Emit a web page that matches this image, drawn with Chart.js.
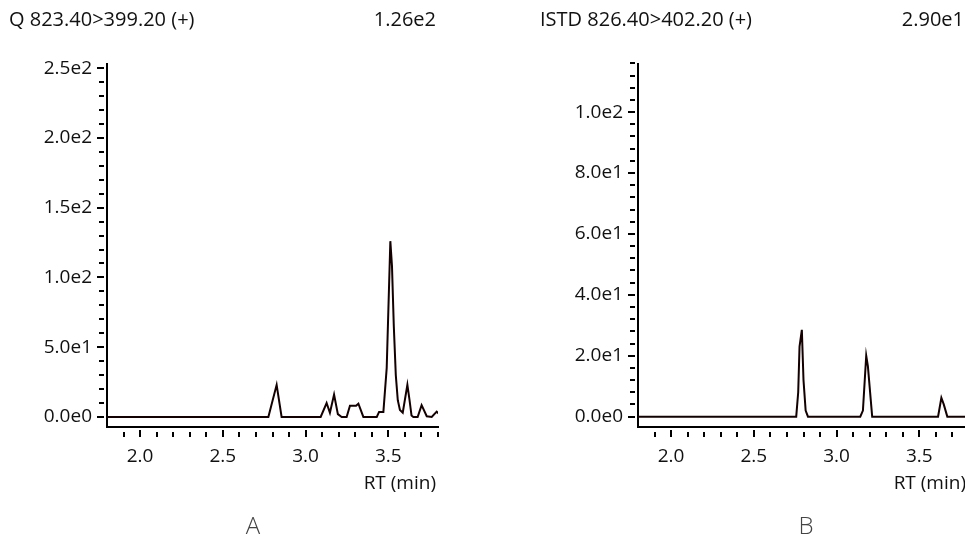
<!DOCTYPE html>
<html>
<head>
<meta charset="utf-8">
<script src="https://cdn.jsdelivr.net/npm/chart.js@4.4.0/dist/chart.umd.min.js"></script>
<style>
  body { margin: 0; background: #fff; overflow: hidden; width: 965px; height: 537px; position: relative; }
  .wrap { position: absolute; top: 0; height: 537px; }
</style>
</head>
<body>
<div class="wrap" style="left:0;width:480px"><canvas id="chartA" width="480" height="537"></canvas></div>
<div class="wrap" style="left:480px;width:500px"><canvas id="chartB" width="500" height="537"></canvas></div>
<script>
// retention time (min) and intensity for the analyte trace (A)
const rtA = [1.80, 2.775, 2.825, 2.855, 3.091, 3.127, 3.147, 3.172, 3.195, 3.218, 3.248, 3.268, 3.305, 3.319, 3.349,
  3.430, 3.444, 3.470, 3.490, 3.512, 3.522, 3.533, 3.545, 3.557, 3.570, 3.587, 3.615, 3.627, 3.640, 3.651,
  3.677, 3.701, 3.732, 3.762, 3.792, 3.808];
const intensityA = [0, 0, 23, 0, 0, 10, 3, 16, 2, 0, 0, 8, 8, 9.5, 0,
  0, 3.6, 3.6, 35, 126, 108, 65, 30, 12, 5, 3, 23, 13, 1, 0,
  0, 8.5, 0.5, 0, 3.8, 2];

// retention time (min) and intensity for the internal standard trace (B)
const rtB = [1.80, 2.756, 2.768, 2.776, 2.790, 2.800, 2.813, 2.827, 3.143, 3.159, 3.179, 3.189, 3.215,
  3.613, 3.633, 3.647, 3.669, 3.800];
const intensityB = [0, 0, 8, 23, 28.5, 12, 2, 0, 0, 2, 20, 16.6, 0,
  0, 6.2, 4.1, 0, 0];

const xTicks = [1.9, 2.0, 2.1, 2.2, 2.3, 2.4, 2.5, 2.6, 2.7, 2.8, 2.9, 3.0, 3.1, 3.2, 3.3, 3.4, 3.5, 3.6, 3.7, 3.8];
const xLabels = [2.0, 2.5, 3.0, 3.5];
const yTicksA = [0, 10, 20, 30, 40, 50, 60, 70, 80, 90, 100, 110, 120, 130, 140, 150, 160, 170, 180, 190, 200, 210, 220, 230, 240, 250];
const yLabelsA = [0, 50, 100, 150, 200, 250];
const yTicksB = [0, 4, 8, 12, 16, 20, 24, 28, 32, 36, 40, 44, 48, 52, 56, 60, 64, 68, 72, 76, 80, 84, 88, 92, 96, 100, 104, 108, 112, 116];
const yLabelsB = [0, 20, 40, 60, 80, 100];

const FONT = '"Open Sans", "DejaVu Sans", sans-serif';

const isIn = (list, v) => list.some(l => Math.abs(l - v) < 1e-6);
const expLabel = v => v.toExponential(1).replace('e+', 'e');

// tick marks sit a little away from the axis line, majors slightly longer
const tickMarks = {
  id: 'tickMarks',
  afterDraw(chart, args, opts) {
    const ctx = chart.ctx;
    const xs = chart.scales.x, ys = chart.scales.y;
    ctx.save();
    ctx.strokeStyle = '#000';
    ctx.lineWidth = 2;
    ys.ticks.forEach(t => {
      const py = Math.round(ys.getPixelForValue(t.value));
      const major = isIn(opts.yMajor, t.value);
      ctx.beginPath();
      ctx.moveTo(ys.right - (major ? 10 : 8), py);
      ctx.lineTo(ys.right - 3, py);
      ctx.stroke();
    });
    xs.ticks.forEach(t => {
      const px = Math.round(xs.getPixelForValue(t.value));
      const major = isIn(xLabels, t.value);
      ctx.beginPath();
      ctx.moveTo(px, xs.top + (major ? 3 : 5));
      ctx.lineTo(px, xs.top + 10);
      ctx.stroke();
    });
    ctx.restore();
  }
};

const labels = {
  id: 'labels',
  afterDraw(chart, args, opts) {
    const ctx = chart.ctx;
    ctx.save();
    ctx.textBaseline = 'middle';
    opts.items.forEach(it => {
      ctx.font = (it.weight || 400) + ' ' + (it.size || 19) + 'px ' + FONT;
      ctx.fillStyle = it.color || '#111';
      ctx.textAlign = it.align;
      ctx.fillText(it.text, it.x, it.y);
    });
    ctx.restore();
  }
};

function makeChart(id, rt, intensity, yMin, yMax, yTicks, yLabels, yWidth, padRight, items) {
  return new Chart(document.getElementById(id), {
    type: 'line',
    data: {
      datasets: [{
        data: rt.map((t, i) => ({ x: t, y: intensity[i] })),
        borderColor: '#140000',
        borderWidth: 2,
        pointRadius: 0,
        tension: 0,
        fill: false
      }]
    },
    options: {
      responsive: false,
      animation: false,
      events: [],
      layout: { padding: { top: 64, right: padRight, left: 0, bottom: 0 } },
      plugins: {
        legend: { display: false },
        tooltip: { enabled: false },
        tickMarks: { yMajor: yLabels },
        labels: { items: items }
      },
      scales: {
        x: {
          type: 'linear',
          min: 1.8,
          max: 3.8,
          afterBuildTicks: s => { s.ticks = xTicks.map(v => ({ value: v })); },
          afterFit: s => { s.height = 110; },
          grid: { display: false, drawTicks: true, tickLength: 16 },
          border: { display: true, color: '#000', width: 2 },
          ticks: {
            autoSkip: false,
            maxRotation: 0,
            padding: 2,
            color: '#111',
            font: { family: FONT, size: 19 },
            callback: v => isIn(xLabels, v) ? v.toFixed(1) : ''
          }
        },
        y: {
          min: yMin,
          max: yMax,
          afterBuildTicks: s => { s.ticks = yTicks.map(v => ({ value: v })); },
          afterFit: s => { s.width = yWidth; },
          grid: { display: false, drawTicks: false },
          border: { display: true, color: '#000', width: 2 },
          ticks: {
            autoSkip: false,
            padding: 15,
            color: '#111',
            font: { family: FONT, size: 19 },
            callback: v => isIn(yLabels, v) ? expLabel(v) : ''
          }
        }
      }
    },
    plugins: [tickMarks, labels]
  });
}

makeChart('chartA', rtA, intensityA, -7.2, 253, yTicksA, yLabelsA, 107, 42, [
  { text: 'Q 823.40>399.20 (+)', x: 9, y: 20, align: 'left', size: 20 },
  { text: '1.26e2', x: 436, y: 20, align: 'right', size: 20 },
  { text: 'RT (min)', x: 436, y: 484, align: 'right' },
  { text: 'A', x: 253, y: 527, align: 'center', size: 24, weight: 300, color: '#444' }
]);

makeChart('chartB', rtB, intensityB, -3.4, 115.8, yTicksB, yLabelsB, 158, 11, [
  { text: 'ISTD 826.40>402.20 (+)', x: 60, y: 20, align: 'left', size: 20 },
  { text: '2.90e1', x: 484, y: 20, align: 'right', size: 20 },
  { text: 'RT (min)', x: 486, y: 484, align: 'right' },
  { text: 'B', x: 326, y: 527, align: 'center', size: 24, weight: 300, color: '#444' }
]);
</script>
</body>
</html>
